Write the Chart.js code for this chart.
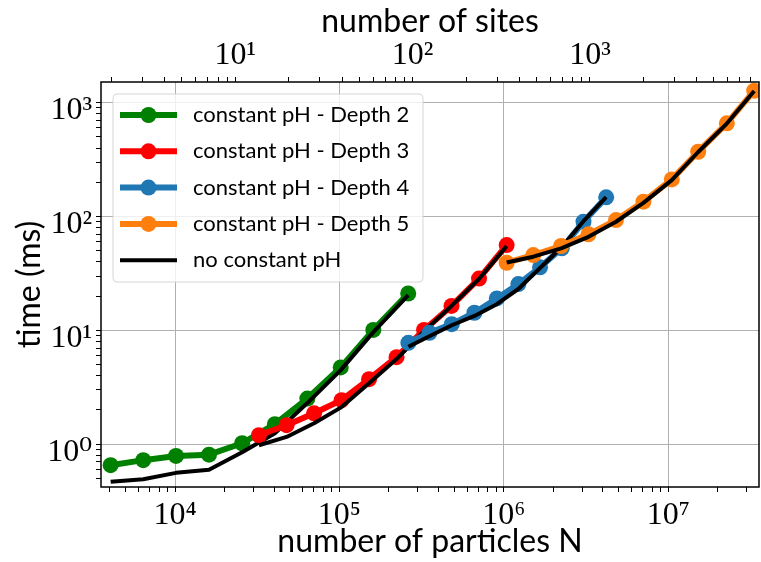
<!DOCTYPE html>
<html>
<head>
<meta charset="utf-8">
<title>Constant pH timing</title>
<script src="https://cdn.jsdelivr.net/npm/chart.js@4.4.1/dist/chart.umd.min.js"></script>
<style>
  html, body { margin: 0; padding: 0; background: #fff; }
  #wrap { width: 761px; height: 562px; }
</style>
</head>
<body>
<div id="wrap"><canvas id="timingChart" width="761" height="562"></canvas></div>
<script>
// number of particles per run, one array per tree depth
const particlesDepth2 = [4060, 6410, 10140, 16100, 25600, 40500, 63800, 101800, 160700, 262000];
const particlesDepth3 = [32400, 47700, 70100, 103000, 151400, 222500, 327000, 480500, 706000, 1040000];
const particlesDepth4 = [262500, 352500, 482000, 662000, 906000, 1225000, 1660000, 2250000, 3050000, 4190000];
const particlesDepth5 = [1040000, 1510000, 2230000, 3270000, 4810000, 7060000, 10500000, 15200000, 22700000, 33300000];

// time per step (ms) with constant pH
const timeDepth2 = [0.655, 0.725, 0.79, 0.81, 1.02, 1.50, 2.52, 4.73, 10.1, 21.1];
const timeDepth3 = [1.20, 1.47, 1.87, 2.44, 3.73, 5.82, 10.1, 16.4, 28.5, 56.2];
const timeDepth4 = [7.78, 9.52, 11.35, 14.3, 19.1, 25.5, 35.8, 52.6, 90, 147.5];
const timeDepth5 = [39.3, 45.9, 55.1, 69.8, 93.1, 135, 212, 371, 659, 1275];

// time per step (ms) without constant pH
const plainDepth2 = [0.468, 0.493, 0.561, 0.598, 0.85, 1.25, 2.3, 4.48, 9.66, 20.4];
const plainDepth3 = [0.98, 1.16, 1.53, 2.12, 3.44, 5.6, 9.86, 16.4, 28.3, 55];
const plainDepth4 = [7.18, 8.9, 11.1, 13.4, 17.0, 23.1, 35.3, 54, 91, 148];
const plainDepth5 = [39.5, 44.4, 52.6, 66.4, 90, 132, 209, 369, 656, 1267];

// labelled decades on each axis
const particleTicks = [1e4, 1e5, 1e6, 1e7];
const siteTicks = [1e1, 1e2, 1e3];
const timeTicks = [1e0, 1e1, 1e2, 1e3];

const colors = {
    depth2: '#008000',
    depth3: '#ff0000',
    depth4: '#1f77b4',
    depth5: '#ff7f0e',
    plain: '#000000'
};

const serif = '"Liberation Serif", "DejaVu Serif", serif';
const sans = 'Lato, "Open Sans", sans-serif';
const sup = { '0': '⁰', '1': '¹', '2': '²', '3': '³', '4': '⁴', '5': '⁵', '6': '⁶', '7': '⁷', '8': '⁸', '9': '⁹', '-': '⁻' };

function isDecade(v) {
    const e = Math.log10(v);
    return Math.abs(e - Math.round(e)) < 1e-6;
}

function decadeLabel(v) {
    const e = Math.round(Math.log10(v));
    return '10' + String(e).split('').map(c => sup[c]).join('');
}

function labelFrom(list) {
    return v => list.some(t => Math.abs(t - v) / t < 1e-6) ? decadeLabel(v) : '';
}

// 1..9 x 10^n ticks inside the axis range, like matplotlib minor ticks
function logTicks(scale) {
    const ticks = [];
    const lo = Math.floor(Math.log10(scale.min));
    const hi = Math.ceil(Math.log10(scale.max));
    for (let e = lo; e <= hi; e++) {
        for (let k = 1; k < 10; k++) {
            const v = Number((k * Math.pow(10, e)).toPrecision(6));
            if (v >= scale.min && v <= scale.max) ticks.push({ value: v, major: k === 1 });
        }
    }
    scale.ticks = ticks;
}

function points(xs, ys) {
    return xs.map((x, i) => ({ x: x, y: ys[i] }));
}

function depthSet(label, xs, ys, color, order) {
    return {
        legendLabel: label,
        data: points(xs, ys),
        borderColor: color,
        backgroundColor: color,
        pointBackgroundColor: color,
        pointBorderWidth: 0,
        pointRadius: 8,
        borderWidth: 6,
        borderJoinStyle: 'round',
        tension: 0,
        order: order
    };
}

function plainSet(label, xs, ys, order) {
    return {
        legendLabel: label,
        data: points(xs, ys),
        borderColor: colors.plain,
        backgroundColor: colors.plain,
        pointRadius: 0,
        borderWidth: 4,
        borderJoinStyle: 'round',
        tension: 0,
        order: order
    };
}

const datasets = [
    depthSet('constant pH - Depth 2', particlesDepth2, timeDepth2, colors.depth2, 8),
    plainSet('no constant pH', particlesDepth2, plainDepth2, 7),
    depthSet('constant pH - Depth 3', particlesDepth3, timeDepth3, colors.depth3, 6),
    plainSet(null, particlesDepth3, plainDepth3, 5),
    depthSet('constant pH - Depth 4', particlesDepth4, timeDepth4, colors.depth4, 4),
    plainSet(null, particlesDepth4, plainDepth4, 3),
    depthSet('constant pH - Depth 5', particlesDepth5, timeDepth5, colors.depth5, 2),
    plainSet(null, particlesDepth5, plainDepth5, 1)
];

// box around the plotting area
const framePlugin = {
    id: 'frame',
    afterDatasetsDraw(chart) {
        const { ctx, chartArea: a } = chart;
        ctx.save();
        ctx.strokeStyle = '#000';
        ctx.lineWidth = 1.5;
        ctx.strokeRect(a.left, a.top, a.right - a.left, a.bottom - a.top);
        ctx.restore();
    }
};

// legend with line + marker swatches
const legendPlugin = {
    id: 'lineLegend',
    afterDraw(chart) {
        const ctx = chart.ctx;
        const a = chart.chartArea;
        const entries = chart.data.datasets.filter(ds => ds.legendLabel);
        const colored = entries.filter(ds => ds.pointRadius > 0);
        const plain = entries.filter(ds => ds.pointRadius === 0);
        const rows = colored.concat(plain);
        const x0 = a.left + 12, y0 = a.top + 12;
        const w = 310, h = 188, rowH = 36.3;
        ctx.save();
        ctx.beginPath();
        ctx.roundRect(x0, y0, w, h, 4);
        ctx.fillStyle = 'rgba(255,255,255,0.8)';
        ctx.fill();
        ctx.strokeStyle = 'rgba(204,204,204,0.8)';
        ctx.lineWidth = 1;
        ctx.stroke();
        ctx.font = '22px ' + sans;
        ctx.textBaseline = 'middle';
        ctx.textAlign = 'left';
        rows.forEach((ds, i) => {
            const cy = y0 + 21 + i * rowH;
            ctx.strokeStyle = ds.borderColor;
            ctx.lineWidth = ds.borderWidth;
            ctx.beginPath();
            ctx.moveTo(x0 + 7, cy);
            ctx.lineTo(x0 + 64, cy);
            ctx.stroke();
            if (ds.pointRadius > 0) {
                ctx.fillStyle = ds.pointBackgroundColor;
                ctx.beginPath();
                ctx.arc(x0 + 35.5, cy, ds.pointRadius, 0, Math.PI * 2);
                ctx.fill();
            }
            ctx.fillStyle = '#000';
            ctx.fillText(ds.legendLabel, x0 + 80, cy);
        });
        ctx.restore();
    }
};

const tickGrid = {
    color: ctx => ctx.tick && isDecade(ctx.tick.value) ? '#b0b0b0' : 'rgba(0,0,0,0)',
    tickColor: '#000',
    tickLength: 5,
    tickWidth: 1,
    lineWidth: 1
};

new Chart(document.getElementById('timingChart'), {
    type: 'line',
    data: { datasets: datasets },
    plugins: [framePlugin, legendPlugin],
    options: {
        responsive: false,
        animation: false,
        devicePixelRatio: 1,
        layout: { autoPadding: false, padding: { left: 0, right: 2, top: 0, bottom: 0 } },
        plugins: {
            legend: { display: false },
            tooltip: { enabled: false }
        },
        scales: {
            x: {
                type: 'logarithmic',
                position: 'bottom',
                min: 3547,
                max: 3.562e7,
                afterBuildTicks: logTicks,
                afterFit: s => { s.height = 75; },
                border: { display: false },
                grid: tickGrid,
                ticks: {
                    autoSkip: false,
                    maxRotation: 0,
                    minRotation: 0,
                    padding: 4,
                    color: '#000',
                    font: { family: serif, size: 32 },
                    callback: labelFrom(particleTicks)
                },
                title: {
                    display: true,
                    text: 'number of particles N',
                    color: '#000',
                    font: { family: sans, size: 32 },
                    padding: { top: 0, bottom: 1 }
                }
            },
            sites: {
                type: 'logarithmic',
                position: 'top',
                axis: 'x',
                min: 1.749,
                max: 8975,
                afterBuildTicks: logTicks,
                afterFit: s => { s.height = 82; },
                border: { display: false },
                grid: { ...tickGrid, drawOnChartArea: false },
                ticks: {
                    autoSkip: false,
                    maxRotation: 0,
                    minRotation: 0,
                    padding: 2,
                    color: '#000',
                    font: { family: serif, size: 32 },
                    callback: labelFrom(siteTicks)
                },
                title: {
                    display: true,
                    text: 'number of sites',
                    color: '#000',
                    font: { family: sans, size: 32 },
                    padding: { top: 2, bottom: 0 }
                }
            },
            y: {
                type: 'logarithmic',
                position: 'left',
                min: 0.4213,
                max: 1520,
                afterBuildTicks: logTicks,
                afterFit: s => { s.width = 101; },
                border: { display: false },
                grid: tickGrid,
                ticks: {
                    autoSkip: false,
                    padding: 4,
                    labelOffset: 8,
                    color: '#000',
                    font: { family: serif, size: 32 },
                    callback: labelFrom(timeTicks)
                },
                title: {
                    display: true,
                    text: 'time (ms)',
                    color: '#000',
                    font: { family: sans, size: 32 },
                    padding: { top: 10, bottom: 0 }
                }
            }
        }
    }
});
</script>
</body>
</html>
